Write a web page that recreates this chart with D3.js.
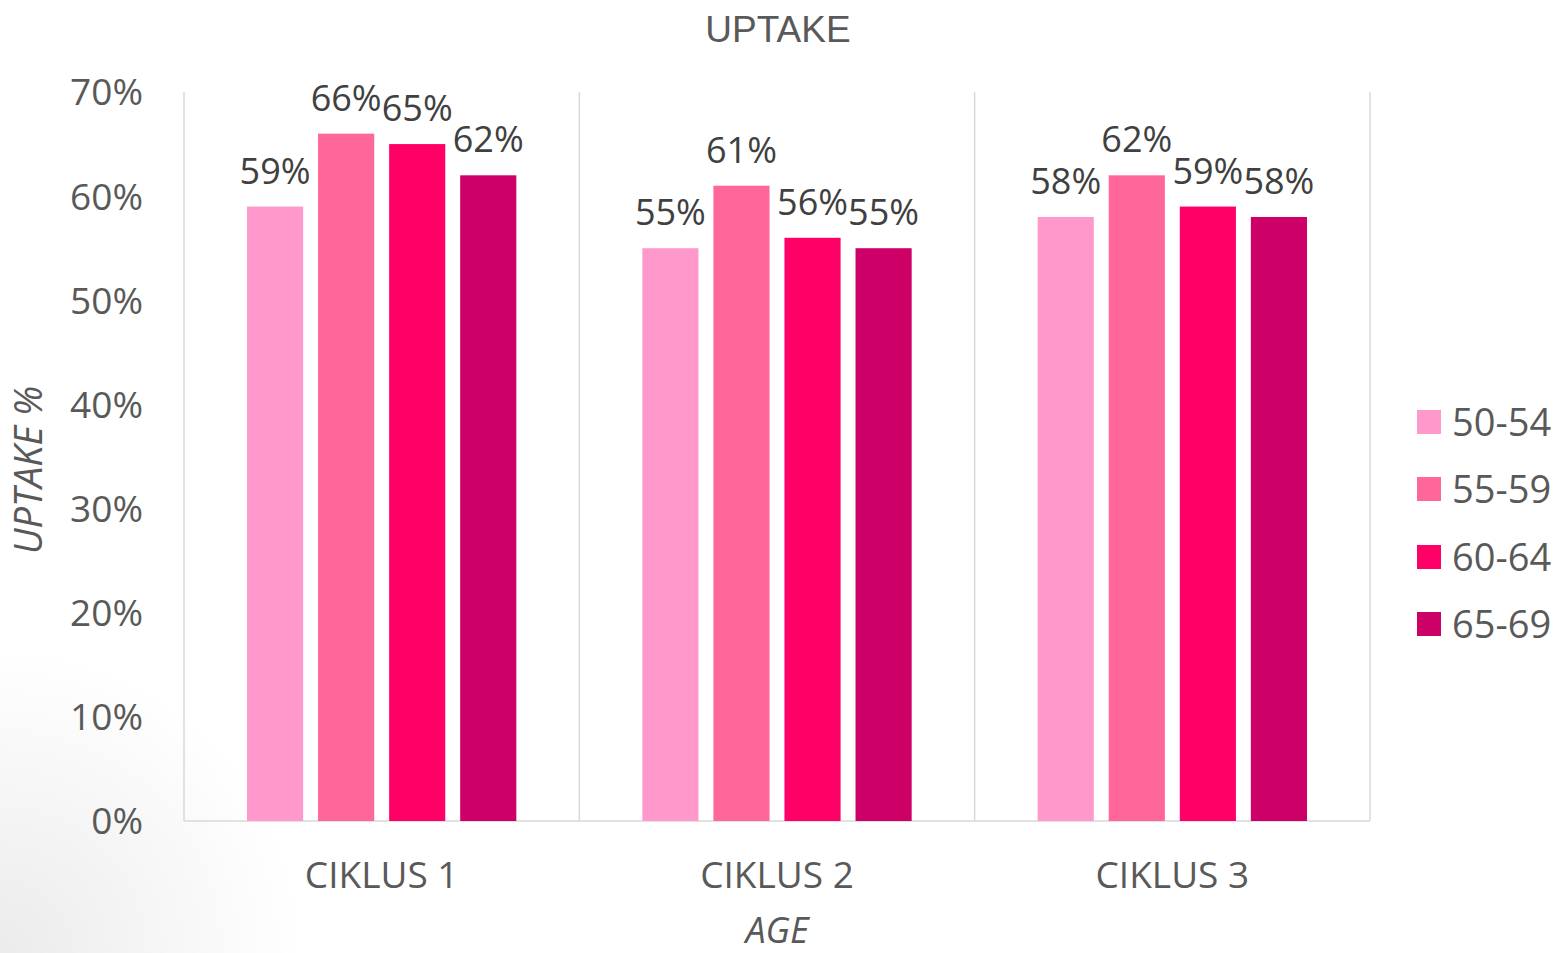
<!DOCTYPE html>
<html><head><meta charset="utf-8">
<script src="https://cdn.jsdelivr.net/npm/d3@7"></script>
<style>html,body{margin:0;padding:0;background:#fff;overflow:hidden}</style>
</head><body>
<svg id="chart" width="1554" height="953"></svg>
<script>
const categories = ["CIKLUS 1", "CIKLUS 2", "CIKLUS 3"];
const seriesNames = ["50-54", "55-59", "60-64", "65-69"];
const seriesColors = ["#FF99CC", "#FF6699", "#FF0066", "#CC0066"];
const s5054 = [0.59, 0.55, 0.58];
const s5559 = [0.66, 0.61, 0.62];
const s6064 = [0.65, 0.56, 0.59];
const s6569 = [0.62, 0.55, 0.58];
const yTicks = [0, 0.1, 0.2, 0.3, 0.4, 0.5, 0.6, 0.7];
const seriesValues = [s5054, s5559, s6064, s6569];

(function(){
const svg = d3.select("#chart");
const font = "'Open Sans', 'Noto Sans', sans-serif";
const titleFont = "'Liberation Sans', Arial, sans-serif";
const textColor = "#595959";

const defs = svg.append("defs");
const rg = defs.append("radialGradient").attr("id","bg").attr("cx",0).attr("cy",1).attr("r",1)
  .attr("gradientUnits","objectBoundingBox");
rg.append("stop").attr("offset","0%").attr("stop-color","#ebebeb");
rg.append("stop").attr("offset","100%").attr("stop-color","#ffffff");
svg.append("rect").attr("width",1554).attr("height",953).attr("fill","#fff");
svg.append("rect").attr("x",0).attr("y",650).attr("width",300).attr("height",303).attr("fill","url(#bg)");

const pLeft = 184, pRight = 1370, pTop = 92, pBottom = 821;
const x0 = d3.scaleBand().domain(categories).range([pLeft, pRight]).paddingInner(0).paddingOuter(0);
const x1 = d3.scaleBand().domain(seriesNames).range([63, x0.bandwidth() - 63]).paddingInner(0.21).paddingOuter(0);
const y = d3.scaleLinear().domain([0, 0.7]).range([pBottom, pTop]);

const seps = [pLeft, ...categories.map(c => x0(c) + x0.bandwidth())];
svg.append("g").selectAll("line").data(seps).join("line")
  .attr("x1", d => d).attr("x2", d => d).attr("y1", pTop).attr("y2", pBottom)
  .attr("stroke", "#d9d9d9").attr("stroke-width", 1.5);

svg.append("line").attr("x1", pLeft).attr("x2", pRight).attr("y1", pBottom).attr("y2", pBottom)
  .attr("stroke", "#d9d9d9").attr("stroke-width", 1.5);

const yAxis = d3.axisLeft(y).tickValues(yTicks).tickFormat(d3.format(".0%")).tickSize(0).tickPadding(0);
const ya = svg.append("g").attr("transform", `translate(143,0)`).call(yAxis);
ya.select(".domain").remove();
ya.selectAll("text").attr("font-family", font).attr("font-size", 37).attr("fill", textColor).attr("dy","0.35em");

const xAxis = d3.axisBottom(x0).tickSize(0).tickPadding(0);
const xa = svg.append("g").attr("transform", `translate(0,876)`).call(xAxis);
xa.select(".domain").remove();
xa.selectAll("text").attr("font-family", font).attr("font-size", 37).attr("fill", textColor).attr("dy","0.33em");

const groups = svg.append("g").selectAll("g").data(categories).join("g")
  .attr("transform", c => `translate(${x0(c)},0)`);
groups.each(function(c, ci) {
  const g = d3.select(this);
  seriesNames.forEach((s, si) => {
    const v = seriesValues[si][ci];
    g.append("rect").attr("x", x1(s)).attr("y", y(v)).attr("width", x1.bandwidth())
      .attr("height", y(0) - y(v)).attr("fill", seriesColors[si]);
    g.append("text").attr("x", x1(s) + x1.bandwidth() / 2).attr("y", y(v) - 23)
      .attr("text-anchor", "middle").attr("font-family", font).attr("font-size", 36)
      .attr("fill", "#404040").text(d3.format(".0%")(v));
  });
});

svg.append("text").attr("x", 778).attr("y", 42).attr("text-anchor", "middle")
  .attr("font-family", titleFont).attr("font-size", 37).attr("fill", textColor).text("UPTAKE");
svg.append("text").attr("transform", "translate(42,470) rotate(-90)").attr("text-anchor", "middle")
  .attr("font-family", font).attr("font-size", 38).attr("font-style", "italic").attr("fill", textColor).text("UPTAKE %");
svg.append("text").attr("x", 777).attr("y", 943).attr("text-anchor", "middle")
  .attr("font-family", font).attr("font-size", 36).attr("font-style", "italic").attr("fill", textColor).text("AGE");

const legY = [422, 489, 557, 624];
const leg = svg.append("g").selectAll("g").data(seriesNames).join("g")
  .attr("transform", (d, i) => `translate(1417,${legY[i]})`);
leg.append("rect").attr("x", 0).attr("y", -12).attr("width", 24).attr("height", 24)
  .attr("fill", (d, i) => seriesColors[i]);
leg.append("text").attr("x", 35).attr("y", 0).attr("dy", "0.36em")
  .attr("font-family", font).attr("font-size", 38).attr("fill", textColor).text(d => d);
})();
</script>
</body></html>
